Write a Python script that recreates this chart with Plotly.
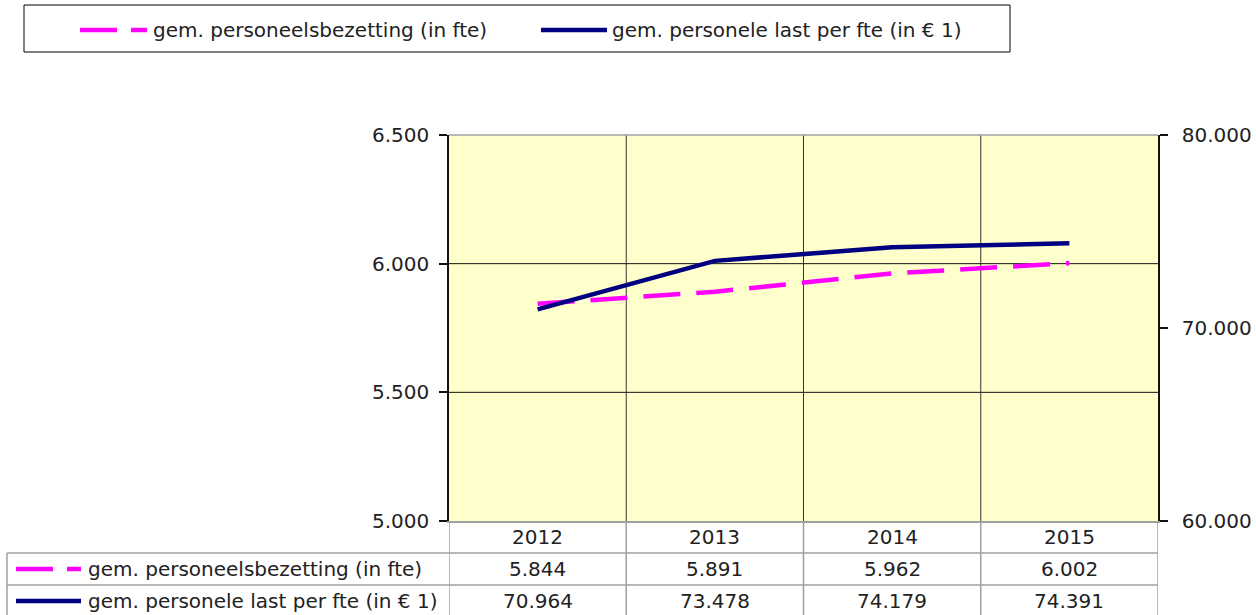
import plotly.graph_objects as go

# ---------------- data ----------------
years = ["2012", "2013", "2014", "2015"]
fte = [5844, 5891, 5962, 6002]
cost_per_fte = [70964, 73478, 74179, 74391]
name_fte = "gem. personeelsbezetting (in fte)"
name_cost = "gem. personele last per fte (in € 1)"
left_ticks = [5000, 5500, 6000, 6500]
right_ticks = [60000, 70000, 80000]

# ---------------- layout helpers (pixel -> paper) ----------------
W, H = 1256, 615
X0, X1, Y0, Y1 = 449, 1158, 135, 521  # plot area in px
PW, PH = X1 - X0, Y1 - Y0


def px(x):
    return (x - X0) / PW


def py(y):
    return (Y1 - y) / PH


def nl(v):
    return f"{v:,}".replace(",", ".")


PINK = "#FF00FF"
NAVY = "#000080"
GRAY = "#A0A0A0"
FONT = "DejaVu Sans"
TXT = "#222222"
FS = 20

fig = go.Figure()
fig.add_trace(go.Scatter(x=years, y=fte, mode="lines", name=name_fte,
                         line=dict(color=PINK, width=4.5, dash="37px,16px"),
                         yaxis="y"))
fig.add_trace(go.Scatter(x=years, y=cost_per_fte, mode="lines", name=name_cost,
                         line=dict(color=NAVY, width=4.5),
                         yaxis="y2"))

shapes = []
# plot top border
shapes.append(dict(type="line", xref="paper", yref="paper", x0=0, x1=1, y0=1, y1=1,
                   line=dict(color=GRAY, width=1.5)))
# horizontal gridlines
for v in left_ticks[1:-1]:
    shapes.append(dict(type="line", xref="paper", yref="y", x0=0, x1=1, y0=v, y1=v,
                       line=dict(color="#111111", width=1), layer="below"))
# vertical gridlines (category boundaries) in plot
for i in range(1, len(years)):
    shapes.append(dict(type="line", xref="x", yref="paper", x0=i - 0.5, x1=i - 0.5, y0=0, y1=1,
                       line=dict(color="#333333", width=1), layer="below"))
# table vertical lines
for i in range(len(years) + 1):
    shapes.append(dict(type="line", xref="x", yref="paper", x0=i - 0.5, x1=i - 0.5,
                       y0=py(521), y1=py(616), line=dict(color=GRAY, width=1.5)))
# table horizontal lines
for yy in (553, 585):
    shapes.append(dict(type="line", xref="paper", yref="paper", x0=px(7), x1=1,
                       y0=py(yy), y1=py(yy), line=dict(color=GRAY, width=1.5)))
shapes.append(dict(type="line", xref="paper", yref="paper", x0=px(7), x1=px(7),
                   y0=py(553), y1=py(616), line=dict(color=GRAY, width=1.5)))

# legend box
shapes.append(dict(type="rect", xref="paper", yref="paper", x0=px(24), x1=px(1010),
                   y0=py(52), y1=py(5), line=dict(color="#000000", width=1),
                   fillcolor="white"))


def sym(xa, xb, y, color, dashed):
    out = []
    if dashed:
        segs = [(xa, xa + 37), (xa + 51, xb)]
    else:
        segs = [(xa, xb)]
    for a, b in segs:
        out.append(dict(type="line", xref="paper", yref="paper", x0=px(a), x1=px(b),
                        y0=py(y), y1=py(y), line=dict(color=color, width=4.5)))
    return out


shapes += sym(80, 147, 30, PINK, True)
shapes += sym(541, 607, 30, NAVY, False)
shapes += sym(16, 81, 569, PINK, True)
shapes += sym(16, 81, 601, NAVY, False)


def txt(x, y, s, anchor="left", xref="paper"):
    return dict(xref=xref, yref="paper", x=x, y=y, text=s, xanchor=anchor,
                yanchor="middle", showarrow=False,
                font=dict(family=FONT, size=FS, color=TXT))


ann = [
    txt(px(151), py(30), name_fte),
    txt(px(610), py(30), name_cost),
    txt(px(86), py(569), name_fte),
    txt(px(86), py(601), name_cost),
]
for i, yr in enumerate(years):
    ann.append(txt(i, py(537), yr, "center", "x"))
    ann.append(txt(i, py(569), nl(fte[i]), "center", "x"))
    ann.append(txt(i, py(601), nl(cost_per_fte[i]), "center", "x"))

fig.update_layout(
    width=W, height=H, autosize=False,
    margin=dict(l=X0, r=W - X1, t=Y0, b=H - Y1, pad=0, autoexpand=False),
    paper_bgcolor="white", plot_bgcolor="#FFFFCC",
    separators=",.",
    showlegend=False,
    font=dict(family=FONT, size=FS, color=TXT),
    xaxis=dict(type="category", range=[-0.5, len(years) - 0.5], showticklabels=False,
               showgrid=False, zeroline=False, showline=True, linecolor=GRAY, linewidth=1.5,
               ticks="", automargin=False),
    yaxis=dict(range=[left_ticks[0], left_ticks[-1]], tickvals=left_ticks, tickformat=",d",
               showgrid=False, zeroline=False, showline=True, linecolor="#111111", linewidth=1.5,
               ticks="outside", ticklen=8, tickcolor="#111111", tickwidth=1.5,
               tickfont=dict(family=FONT, size=FS, color=TXT), ticklabelstandoff=6,
               automargin=False),
    yaxis2=dict(range=[right_ticks[0], right_ticks[-1]], tickvals=right_ticks, tickformat=",d",
                overlaying="y", side="right", showgrid=False, zeroline=False,
                showline=True, linecolor="#111111", linewidth=1.5,
                ticks="outside", ticklen=8, tickcolor="#111111", tickwidth=1.5,
                tickfont=dict(family=FONT, size=FS, color=TXT), ticklabelstandoff=10,
                automargin=False),
    shapes=shapes,
    annotations=ann,
)

fig.write_html("out.html", config={"displayModeBar": False},
               post_script="document.body.style.margin='0';")
